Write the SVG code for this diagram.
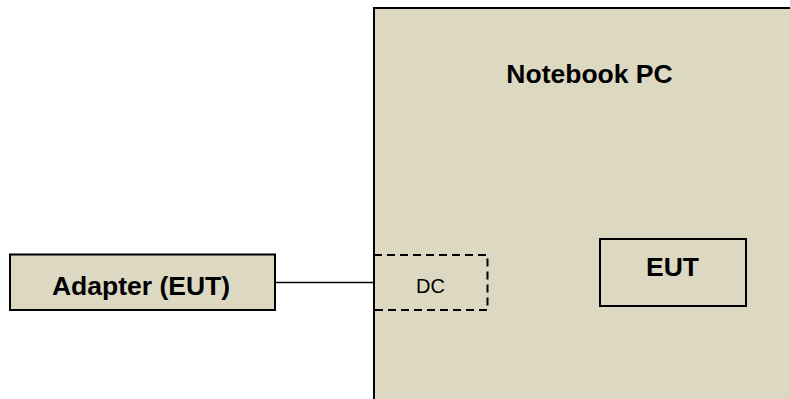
<svg xmlns="http://www.w3.org/2000/svg" width="790" height="399" viewBox="0 0 790 399">
<style>
.box{fill:#DDD8C2;stroke:#000;stroke-width:2}
.lbl{font-family:"Liberation Sans",Arial,sans-serif;font-weight:bold;font-size:26.5px;fill:#000;text-anchor:middle}
.dc{font-family:"Liberation Sans",Arial,sans-serif;font-size:20px;fill:#000;text-anchor:middle}
</style>
<rect width="790" height="399" fill="#fff"/>
<g id="notebook">
<rect class="box" x="374" y="8" width="430" height="410"/>
<text class="lbl" x="589.5" y="83">Notebook PC</text>
</g>
<g id="dc">
<rect x="374" y="255" width="113.5" height="55" fill="none" stroke="#000" stroke-width="2" stroke-dasharray="8,5"/>
<text class="dc" x="430.5" y="293">DC</text>
</g>
<g id="eut">
<rect class="box" x="600" y="239" width="146" height="67"/>
<text class="lbl" x="672.5" y="276">EUT</text>
</g>
<g id="adapter">
<rect class="box" x="10" y="254.5" width="265" height="55.5"/>
<text class="lbl" x="141" y="295">Adapter (EUT)</text>
</g>
<g id="connectors">
<line x1="275" y1="282.5" x2="374" y2="282.5" stroke="#000" stroke-width="1.5"/>
</g>
</svg>
